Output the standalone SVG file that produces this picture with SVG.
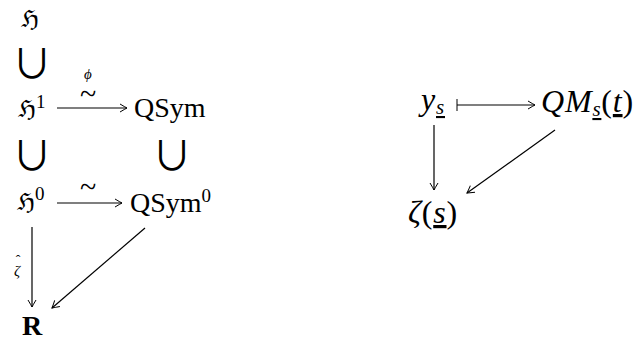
<svg xmlns="http://www.w3.org/2000/svg" width="635" height="341" viewBox="0 0 635 341">
<defs>
<marker id="ah" viewBox="-8 -5 10 10" markerWidth="10" markerHeight="10" refX="0" refY="0" orient="auto" markerUnits="userSpaceOnUse">
<path d="M -7 -4 Q -2 -1 0 0 Q -2 1 -7 4" fill="none" stroke="#000" stroke-width="1"/>
</marker>
<marker id="bar" viewBox="-1 -7 2 14" markerWidth="2" markerHeight="14" refX="0" refY="0" orient="auto" markerUnits="userSpaceOnUse">
<line x1="0" y1="-6" x2="0" y2="6" stroke="#000" stroke-width="1"/>
</marker>
</defs>
<style>
.m{font-size:28px}
.r{font-size:32px;letter-spacing:0.8px}
.sup{font-size:19px}
.sub{font-size:21px}
.i{font-style:italic}
.fr{font-size:24px}
.lab{font-size:15px;font-style:italic}
.cup{font-family:"Noto Sans CJK JP",sans-serif;font-size:40px}
.c{fill:none;stroke:#000;stroke-width:1.2}
.u{text-decoration:underline}
</style>
<g font-family="'Liberation Serif', 'Times New Roman', serif" fill="#000">
<g id="connectors">
<line class="c" x1="57" y1="108" x2="127" y2="108" marker-end="url(#ah)"/>
<line class="c" x1="57" y1="203" x2="122" y2="203" marker-end="url(#ah)"/>
<line class="c" x1="32" y1="227" x2="32" y2="307" marker-end="url(#ah)"/>
<line class="c" x1="145" y1="228" x2="52" y2="308" marker-end="url(#ah)"/>
<line class="c" x1="457" y1="105" x2="535" y2="105" marker-start="url(#bar)" marker-end="url(#ah)"/>
<line class="c" x1="434" y1="125" x2="434" y2="190" marker-end="url(#ah)"/>
<line class="c" x1="555" y1="130" x2="467" y2="193" marker-end="url(#ah)"/>
<text x="88" y="104" text-anchor="middle"><tspan font-size="30">~</tspan><tspan class="lab" x="88" y="79">ϕ</tspan></text>
<text font-size="30" x="88" y="197" text-anchor="middle">~</text>
<text x="17" y="276" text-anchor="middle"><tspan class="lab">ζ</tspan><tspan font-size="14" x="18" y="265">ˆ</tspan></text>
</g>
<g id="H"><text class="fr" font-family="'DejaVu Serif', serif" x="21" y="27">ℌ</text></g>
<g id="cup1"><text class="cup" x="32" y="78" text-anchor="middle">∪</text></g>
<g id="H1"><text x="18" y="117"><tspan class="fr" font-family="'DejaVu Serif', serif">ℌ</tspan><tspan class="sup" dy="-9">1</tspan></text></g>
<g id="QSym"><text class="m" x="134" y="117">QSym</text></g>
<g id="cup2"><text class="cup" x="32" y="170" text-anchor="middle">∪</text></g>
<g id="cup3"><text class="cup" x="172" y="170" text-anchor="middle">∪</text></g>
<g id="H0"><text x="17" y="210"><tspan class="fr" font-family="'DejaVu Serif', serif">ℌ</tspan><tspan class="sup" dy="-10">0</tspan></text></g>
<g id="QSym0"><text class="m" x="130" y="212">QSym<tspan class="sup" dy="-10">0</tspan></text></g>
<g id="R"><text class="m" x="22" y="335" font-weight="bold">R</text></g>
<g id="ys"><text class="r i" x="421" y="110">y<tspan class="sub u" dy="4">s</tspan></text></g>
<g id="QMs"><text class="r i" x="541" y="112">QM<tspan class="sub u" dy="4">s</tspan><tspan dy="-4" font-style="normal">(</tspan><tspan class="u">t</tspan><tspan font-style="normal">)</tspan></text></g>
<g id="zeta"><text class="r i" x="408" y="223">ζ<tspan font-style="normal">(</tspan><tspan class="u">s</tspan><tspan font-style="normal">)</tspan></text></g>
</g>
</svg>
